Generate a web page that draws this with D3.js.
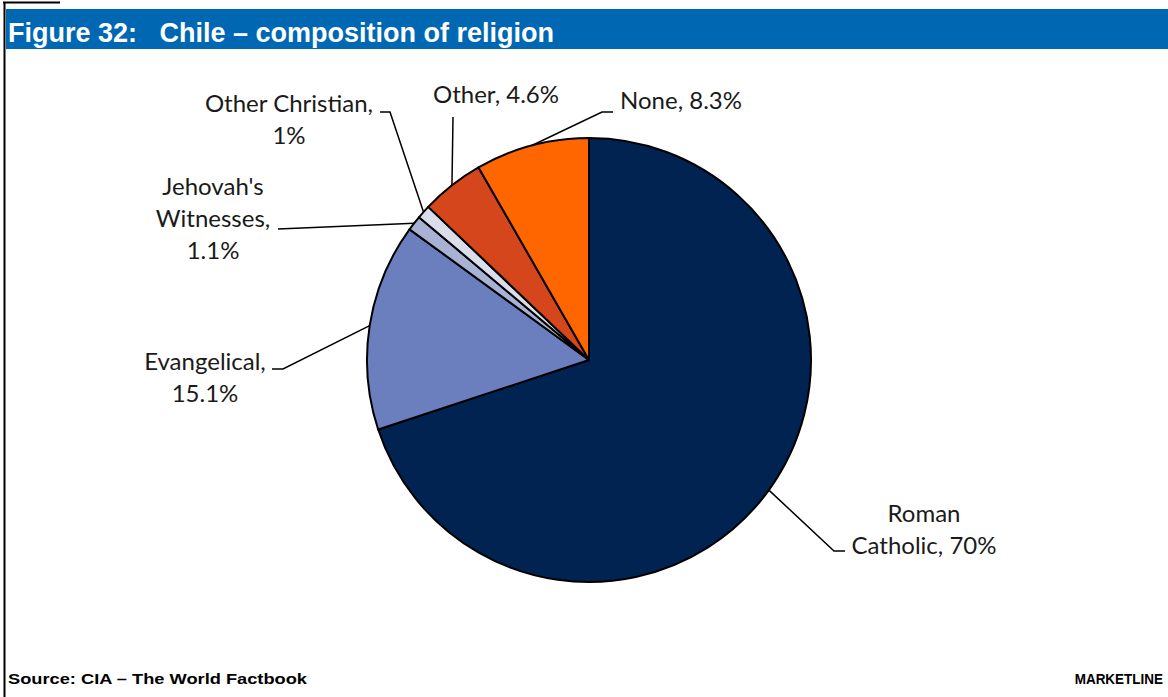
<!DOCTYPE html>
<html>
<head>
<meta charset="utf-8">
<script src="https://cdn.jsdelivr.net/npm/d3@7"></script>
<style>
  html, body { margin: 0; padding: 0; background: #fff; }
  svg { display: block; }
</style>
</head>
<body>
<svg id="chart" width="1168" height="697"></svg>
<script>
// Religion shares for Chile (%), clockwise from 12 o'clock
const categories = ["Roman Catholic", "Evangelical", "Jehovah's Witnesses", "Other Christian", "Other", "None"];
const values = [70, 15.1, 1.1, 1, 4.6, 8.3];
const valueLabels = ["70%", "15.1%", "1.1%", "1%", "4.6%", "8.3%"];
const colors = ["#002352", "#6b7fbf", "#a8b2d3", "#d9deea", "#d6461c", "#ff6600"];

// Label text lines and leader-line geometry (label side), per slice
const labelLayout = [
  { lines: ["Roman", "Catholic, 70%"], x: 924, y: 522, elbow: [[834, 551], [845, 551]] },
  { lines: ["Evangelical,", "15.1%"], x: 205, y: 370, elbow: [[283, 369], [272, 369]] },
  { lines: ["Jehovah's", "Witnesses,", "1.1%"], x: 213, y: 195, elbow: [[278, 229]] },
  { lines: ["Other Christian,", "1%"], x: 289, y: 112, elbow: [[390, 112], [380, 112]] },
  { lines: ["Other, 4.6%"], x: 496, y: 103, elbow: [[453, 117]] },
  { lines: ["None, 8.3%"], x: 681, y: 109, elbow: [[602, 112], [613, 112]] }
];

const W = 1168, H = 697;
const svg = d3.select("#chart");

// Page frame
svg.append("line").attr("x1", 4.5).attr("x2", 4.5).attr("y1", 2).attr("y2", H)
  .attr("stroke", "#000").attr("stroke-width", 2);
svg.append("line").attr("x1", 3).attr("x2", 60).attr("y1", 2.5).attr("y2", 2.5)
  .attr("stroke", "#000").attr("stroke-width", 2);

// Title bar
svg.append("rect").attr("x", 6).attr("y", 9).attr("width", W - 6).attr("height", 40)
  .attr("fill", "#0068b3");
svg.append("text")
  .attr("x", 8).attr("y", 42)
  .attr("fill", "#fff")
  .attr("font-family", "'Liberation Sans', Arial, sans-serif")
  .attr("font-weight", "bold")
  .attr("font-size", 27)
  .style("white-space", "pre")
  .text("Figure 32:   Chile \u2013 composition of religion");

// Pie
const cx = 589, cy = 360, r = 222;
const pie = d3.pie().sort(null).value(d => d)(values);
const arc = d3.arc().innerRadius(0).outerRadius(r);

const g = svg.append("g").attr("transform", `translate(${cx},${cy})`);
g.selectAll("path.slice")
  .data(pie)
  .join("path")
  .attr("class", "slice")
  .attr("d", arc)
  .attr("fill", (d, i) => colors[i])
  .attr("stroke", "#000")
  .attr("stroke-width", 2)
  .attr("stroke-linejoin", "round");

// Leader lines from the slice edge (at mid angle) to the labels
pie.forEach((d, i) => {
  const a = (d.startAngle + d.endAngle) / 2;
  const p0 = [cx + r * Math.sin(a), cy - r * Math.cos(a)];
  const pts = [p0].concat(labelLayout[i].elbow);
  svg.append("path")
    .attr("d", d3.line()(pts))
    .attr("fill", "none")
    .attr("stroke", "#000")
    .attr("stroke-width", 1.5);
});

// Labels
const labelFont = "Lato, 'Open Sans', sans-serif";
labelLayout.forEach((L, i) => {
  const t = svg.append("text")
    .attr("x", L.x).attr("y", L.y)
    .attr("text-anchor", "middle")
    .attr("font-family", labelFont)
    .attr("font-size", 24)
    .attr("fill", "#1a1a1a");
  L.lines.forEach((ln, j) => {
    t.append("tspan").attr("x", L.x).attr("dy", j === 0 ? 0 : 32).text(ln);
  });
});

// Footer
const footFont = "'Liberation Sans', Arial, sans-serif";
svg.append("text")
  .attr("x", 8).attr("y", 684)
  .attr("font-family", footFont)
  .attr("font-weight", "bold")
  .attr("font-size", 15.5)
  .attr("textLength", 299)
  .attr("lengthAdjust", "spacingAndGlyphs")
  .text("Source: CIA \u2013 The World Factbook");
svg.append("g")
  .attr("transform", "translate(1163,684) scale(0.87,1)")
  .append("text")
  .attr("text-anchor", "end")
  .attr("font-family", footFont)
  .attr("font-weight", "bold")
  .attr("font-size", 15.5)
  .text("MARKETLINE");
</script>
</body>
</html>
